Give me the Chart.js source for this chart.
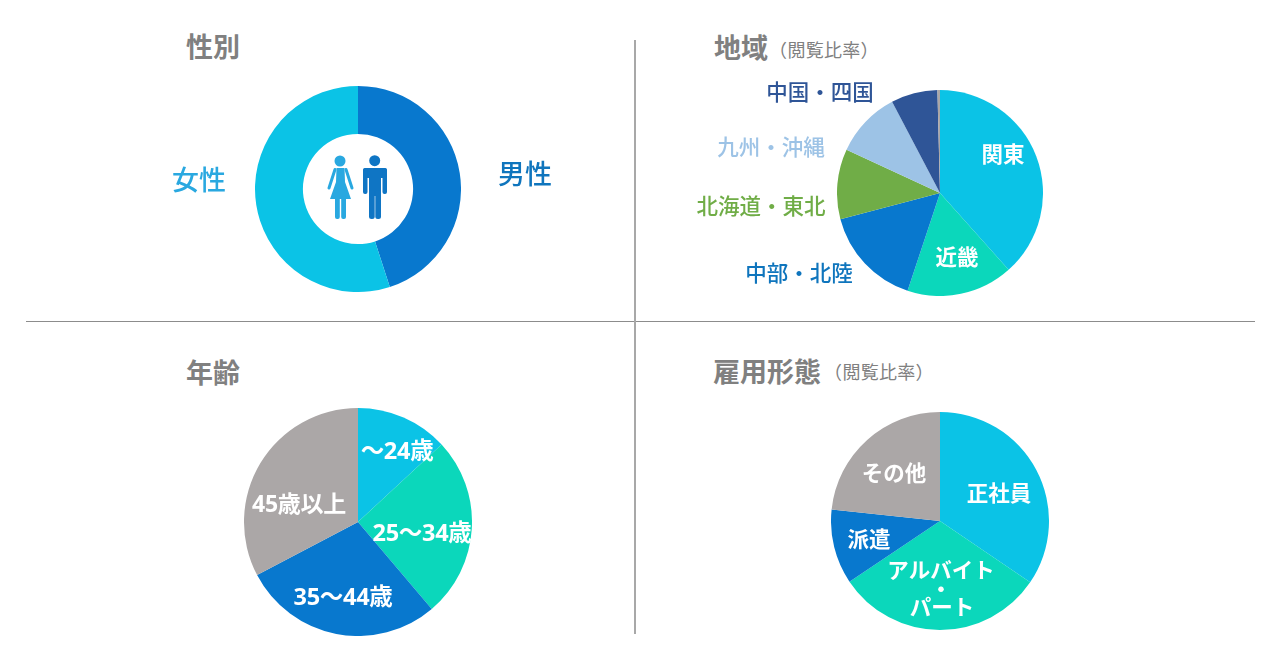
<!DOCTYPE html>
<html lang="ja">
<head>
<meta charset="utf-8">
<title>閲覧者属性</title>
<script src="https://cdn.jsdelivr.net/npm/chart.js@4"></script>
<style>
  html, body { margin: 0; padding: 0; background: #fff; }
  body { position: relative; width: 1280px; height: 645px; overflow: hidden; font-family: "Noto Sans CJK JP", "Noto Sans", sans-serif; }
  canvas { position: absolute; }
  .txt { position: absolute; white-space: nowrap; transform: translate(-50%, -50%); line-height: 1; font-size: 21.5px; font-weight: 500; }
  .title { font-size: 27px; font-weight: 700; color: #808080; }
  .sub { font-size: 18px; font-weight: 400; color: #808080; letter-spacing: 0.3px; }
  .side { font-size: 27px; }
  .in { color: #fff; font-weight: 700; }
  .num { font-family: "Open Sans", "Noto Sans CJK JP", sans-serif; font-size: 23.5px; font-weight: 700; letter-spacing: -0.3px; }
  .rule { position: absolute; }
  #people { position: absolute; left: 320px; top: 150px; }
</style>
</head>
<body>
<div class="rule" style="left:26px;top:321px;width:1229px;height:1px;background:#8c8c8c"></div>
<div class="rule" style="left:634px;top:40px;width:2px;height:594px;background:#a8a8a8"></div>

<canvas id="genderChart"></canvas>
<canvas id="regionChart"></canvas>
<canvas id="ageChart"></canvas>
<canvas id="jobChart"></canvas>

<svg id="people" width="72" height="72" viewBox="0 0 72 72">
  <g fill="#29a8e0">
    <circle cx="20" cy="11" r="5.500"></circle>
    <path d="M16.500 18H24.500L25 32L31 49H10L16 32Z"></path>
    <path d="M15 19.500L9 38M26 19.500L32 38" stroke="#29a8e0" stroke-width="3" stroke-linecap="round" fill="none"></path>
    <rect x="15" y="46" width="4.800" height="23" rx="2"></rect>
    <rect x="21.200" y="46" width="4.800" height="23" rx="2"></rect>
  </g>
  <g fill="#0f75c4">
    <circle cx="54.700" cy="10.700" r="5.500"></circle>
    <rect x="43" y="18" width="24" height="10" rx="3"></rect>
    <rect x="43" y="18" width="4.500" height="26" rx="2"></rect>
    <rect x="62.500" y="18" width="4.500" height="26" rx="2"></rect>
    <rect x="49" y="18" width="12" height="28"></rect>
    <rect x="49" y="40" width="5.700" height="29" rx="2.500"></rect>
    <rect x="55.300" y="40" width="5.700" height="29" rx="2.500"></rect>
  </g>
</svg>

<span class="txt title" style="left:213px;top:45px">性別</span>
<span class="txt side" style="left:199px;top:178px;color:#29a8e0">女性</span>
<span class="txt side" style="left:525px;top:172px;color:#0f75bd">男性</span>

<span class="txt title" style="left:741px;top:46px">地域</span>
<span class="txt sub" style="left:824px;top:49px">（閲覧比率）</span>
<span class="txt" style="left:820px;top:91px;color:#2f5597">中国・四国</span>
<span class="txt" style="left:771px;top:146px;color:#9dc3e6">九州・沖縄</span>
<span class="txt" style="left:761px;top:205px;color:#70ad47">北海道・東北</span>
<span class="txt" style="left:799px;top:272px;color:#0f75bd">中部・北陸</span>
<span class="txt in" style="left:1003px;top:153px">関東</span>
<span class="txt in" style="left:957px;top:256px">近畿</span>

<span class="txt title" style="left:213px;top:371px">年齢</span>
<span class="txt in num" style="left:397px;top:451px">～24歳</span>
<span class="txt in num" style="left:422px;top:533px">25～34歳</span>
<span class="txt in num" style="left:343px;top:597px">35～44歳</span>
<span class="txt in num" style="left:299px;top:503px;font-size:23px">45歳以上</span>

<span class="txt title" style="left:767px;top:370px">雇用形態</span>
<span class="txt sub" style="left:879px;top:371px">（閲覧比率）</span>
<span class="txt in" style="left:999px;top:492px">正社員</span>
<span class="txt in" style="left:894px;top:472px">その他</span>
<span class="txt in" style="left:869px;top:538px">派遣</span>
<span class="txt in" style="left:941px;top:569px">アルバイト</span>
<span class="txt in" style="left:941px;top:588px">・</span>
<span class="txt in" style="left:942px;top:606px">パート</span>

<script>
const genderLabels = ["男性", "女性"];
const genderValues = [45, 55];
const genderColors = ["#0878ce", "#0bc3e6"];

const regionLabels = ["関東", "近畿", "中部・北陸", "北海道・東北", "九州・沖縄", "中国・四国", "その他"];
const regionValues = [38.4, 16.7, 15.8, 11, 10.4, 7.3, 0.4];
const regionColors = ["#0bc3e6", "#0bd7bb", "#0878ce", "#70ad47", "#9dc3e6", "#2f5597", "#aba7a7"];

const ageLabels = ["～24歳", "25～34歳", "35～44歳", "45歳以上"];
const ageValues = [13.1, 25.7, 28.5, 32.7];
const ageColors = ["#0bc3e6", "#0bd7bb", "#0878ce", "#aba7a7"];

const jobLabels = ["正社員", "アルバイト・パート", "派遣", "その他"];
const jobValues = [34.5, 31.1, 11.1, 23.3];
const jobColors = ["#0bc3e6", "#0bd7bb", "#0878ce", "#aba7a7"];

function makePie(id, type, cx, cy, r, labels, values, colors, cutout) {
  const canvas = document.getElementById(id);
  const size = r * 2;
  canvas.width = size;
  canvas.height = size;
  canvas.style.left = (cx - r) + "px";
  canvas.style.top = (cy - r) + "px";
  return new Chart(canvas, {
    type,
    data: {
      labels,
      datasets: [{ data: values, backgroundColor: colors, borderWidth: 0 }]
    },
    options: {
      responsive: false,
      animation: false,
      cutout,
      plugins: { legend: { display: false }, tooltip: { enabled: false } }
    }
  });
}

makePie("genderChart", "doughnut", 358, 189, 103, genderLabels, genderValues, genderColors, "53.5%");
makePie("regionChart", "pie", 940, 193, 103, regionLabels, regionValues, regionColors, 0);
makePie("ageChart", "pie", 358, 522, 114, ageLabels, ageValues, ageColors, 0);
makePie("jobChart", "pie", 940, 521, 109, jobLabels, jobValues, jobColors, 0);
</script>
</body>
</html>
